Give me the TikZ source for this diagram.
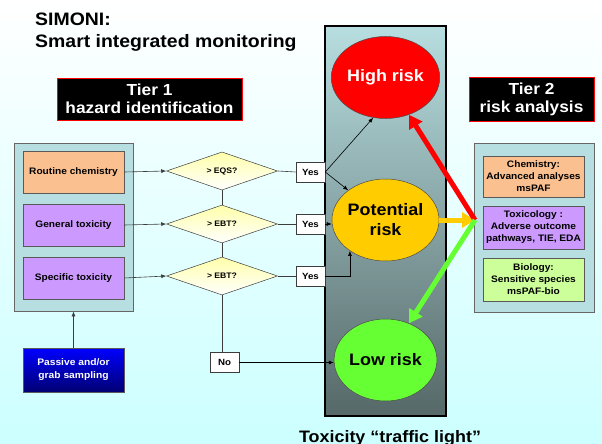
\documentclass[tikz,border=0pt]{standalone}
\usepackage{fontspec}
\setmainfont{Liberation Sans}[FakeStretch=1.08]
\usepackage{tikz}
\usetikzlibrary{arrows.meta}
\usetikzlibrary{shapes.geometric,positioning}

\definecolor{panelteal}{RGB}{183,222,224}
\definecolor{chemorange}{RGB}{250,192,144}
\definecolor{toxviolet}{RGB}{204,153,255}
\definecolor{biogreen}{RGB}{204,255,153}
\definecolor{potyellow}{RGB}{255,204,0}
\definecolor{lowgreen}{RGB}{102,255,51}
\definecolor{skycyan}{RGB}{204,255,255}
\definecolor{lampdark}{RGB}{86,104,104}
\definecolor{linegray}{RGB}{60,60,60}
\definecolor{diamyellow}{RGB}{255,255,170}

\begin{document}
\begin{tikzpicture}[x=1pt,y=-1pt,
        panel/.style={draw=gray!80!black,line width=0.7pt,fill=panelteal,inner sep=0pt},
        testbox/.style={draw=gray!70!black,line width=0.6pt,minimum width=101pt,minimum height=42pt,inner sep=1pt,align=center,font=\fontsize{9.4}{11}\selectfont\bfseries},
        studybox/.style={draw=gray!70!black,line width=0.6pt,minimum width=101pt,minimum height=41pt,inner sep=1pt,align=center,font=\fontsize{9.4}{12}\selectfont\bfseries},
        tierbox/.style={draw=red,line width=0.6pt,fill=black,text=white,inner sep=0pt,align=center,font=\fontsize{16}{18}\selectfont\bfseries},
        check/.style={diamond,draw=linegray,line width=0.5pt,top color=diamyellow,bottom color=white,minimum width=111pt,minimum height=38pt,inner sep=0pt,font=\fontsize{8}{9}\selectfont\bfseries},
        answer/.style={draw=linegray,line width=0.6pt,fill=white,minimum width=29pt,minimum height=20pt,inner sep=0pt,font=\fontsize{9}{10}\selectfont\bfseries},
        lamp/.style={ellipse,draw=black!70,line width=0.5pt,minimum width=91pt,minimum height=82pt,inner sep=0pt,align=center,font=\fontsize{16.6}{20}\selectfont\bfseries},
        flow/.style={draw=linegray,line width=0.6pt},
        flowarrow/.style={flow,-{Latex[length=5pt,width=4pt]}},
        bigarrow/.style={line width=5pt,-{Triangle[length=13pt,width=15pt]}}]

        % background and frame
        \shade[top color=white,bottom color=skycyan] (0,0) rectangle (602,444);
        \useasboundingbox (0,0) rectangle (602,444);

        \node [anchor=north west,align=left,inner sep=0pt,font=\fontsize{18}{22}\selectfont\bfseries] (title) at (35,13) {SIMONI:\\Smart integrated monitoring};

        \node [tierbox,minimum width=185pt,minimum height=42pt] (tier1) at (149.5,99) {Tier 1\\hazard identification};
        \node [tierbox,minimum width=125pt,minimum height=44pt] (tier2) at (531.5,99) {Tier 2\\risk analysis};

        % tier 1 column
        \node [panel,minimum width=119pt,minimum height=168pt] (lpanel) at (73.5,227) {};
        \node [testbox,fill=chemorange] (chem) at (73.5,172) {Routine chemistry};
        \node [testbox,fill=toxviolet] (gentox) at (73.5,225) {General toxicity};
        \node [testbox,fill=toxviolet] (spectox) at (73.5,278) {Specific toxicity};
        \node [testbox,top color=blue,bottom color=blue!45!black,text=white,minimum height=44pt,font=\fontsize{9.5}{13}\selectfont\bfseries] (passive) at (73.5,370) {Passive and/or\\grab sampling};

        \node [check] (eqs) at (222,171) {> EQS?};
        \node [check] (ebt1) at (222,224) {> EBT?};
        \node [check] (ebt2) at (222,276) {> EBT?};

        % traffic light
        \node [draw=black,line width=2pt,top color=panelteal,bottom color=lampdark,minimum width=121pt,minimum height=390pt,inner sep=0pt] (light) at (385.5,221) {};
        \node [lamp,fill=red,text=white] (high) at (385.5,77.5) {High risk};
        \node [lamp,fill=potyellow] (pot) at (385.5,220) {Potential\\risk};
        \node [lamp,fill=lowgreen] (low) at (385.5,360) {Low risk};

        \node [answer] (yes1) at (310.5,172) {Yes};
        \node [answer] (yes2) at (310.5,224) {Yes};
        \node [answer] (yes3) at (310.5,276) {Yes};
        \node [answer] (no) at (224.5,362.5) {No};

        \node [anchor=base,inner sep=0pt,font=\fontsize{16.6}{18}\selectfont\bfseries] (caption) at (390,442) {Toxicity “traffic light”};

        % tier 2 column
        \node [panel,minimum width=120pt,minimum height=169pt] (rpanel) at (534,227.5) {};
        \node [studybox,fill=chemorange] (advchem) at (533.5,176.5) {Chemistry:\\Advanced analyses\\msPAF};
        \node [studybox,fill=toxviolet,minimum height=43pt] (advtox) at (533.5,227.5) {Toxicology :\\Adverse outcome\\pathways, TIE, EDA};
        \node [studybox,fill=biogreen,minimum height=43pt] (advbio) at (533.5,279.5) {Biology:\\Sensitive species\\msPAF-bio};
        \coordinate (hub) at (475,220);

        % flow lines
        \draw [flowarrow] (passive) -- (lpanel);
        \draw [flowarrow] (chem.east) -- (eqs.west);
        \draw [flowarrow] (gentox.east) -- (ebt1.west);
        \draw [flowarrow] (spectox.east) -- (ebt2.west);
        \draw [flow] (eqs.south) -- (ebt1.north);
        \draw [flow] (ebt1.south) -- (ebt2.north);
        \draw [flow] (ebt2.south) -- (ebt2.south |- no.north);
        \draw [flow] (eqs.east) -- (yes1.west);
        \draw [flow] (ebt1.east) -- (yes2.west);
        \draw [flow] (ebt2.east) -- (yes3.west);

        \draw [flowarrow,draw=black] (yes1.east) -- (high.-107);
        \draw [flowarrow,draw=black] (yes1.east) -- (pot);
        \draw [flowarrow,draw=black] (yes2.east) -- (yes2.east -| pot.west);
        \draw [flowarrow,draw=black] (yes3.east) -| (pot.-139);
        \draw [flowarrow,draw=black] (no.east) -- (no.east -| low.west);

        \draw [bigarrow,potyellow] (pot.east) -- (hub);
        \draw [bigarrow,red] (hub) -- (high);
        \draw [bigarrow,lowgreen] (hub) -- (low);
\end{tikzpicture}
\end{document}
